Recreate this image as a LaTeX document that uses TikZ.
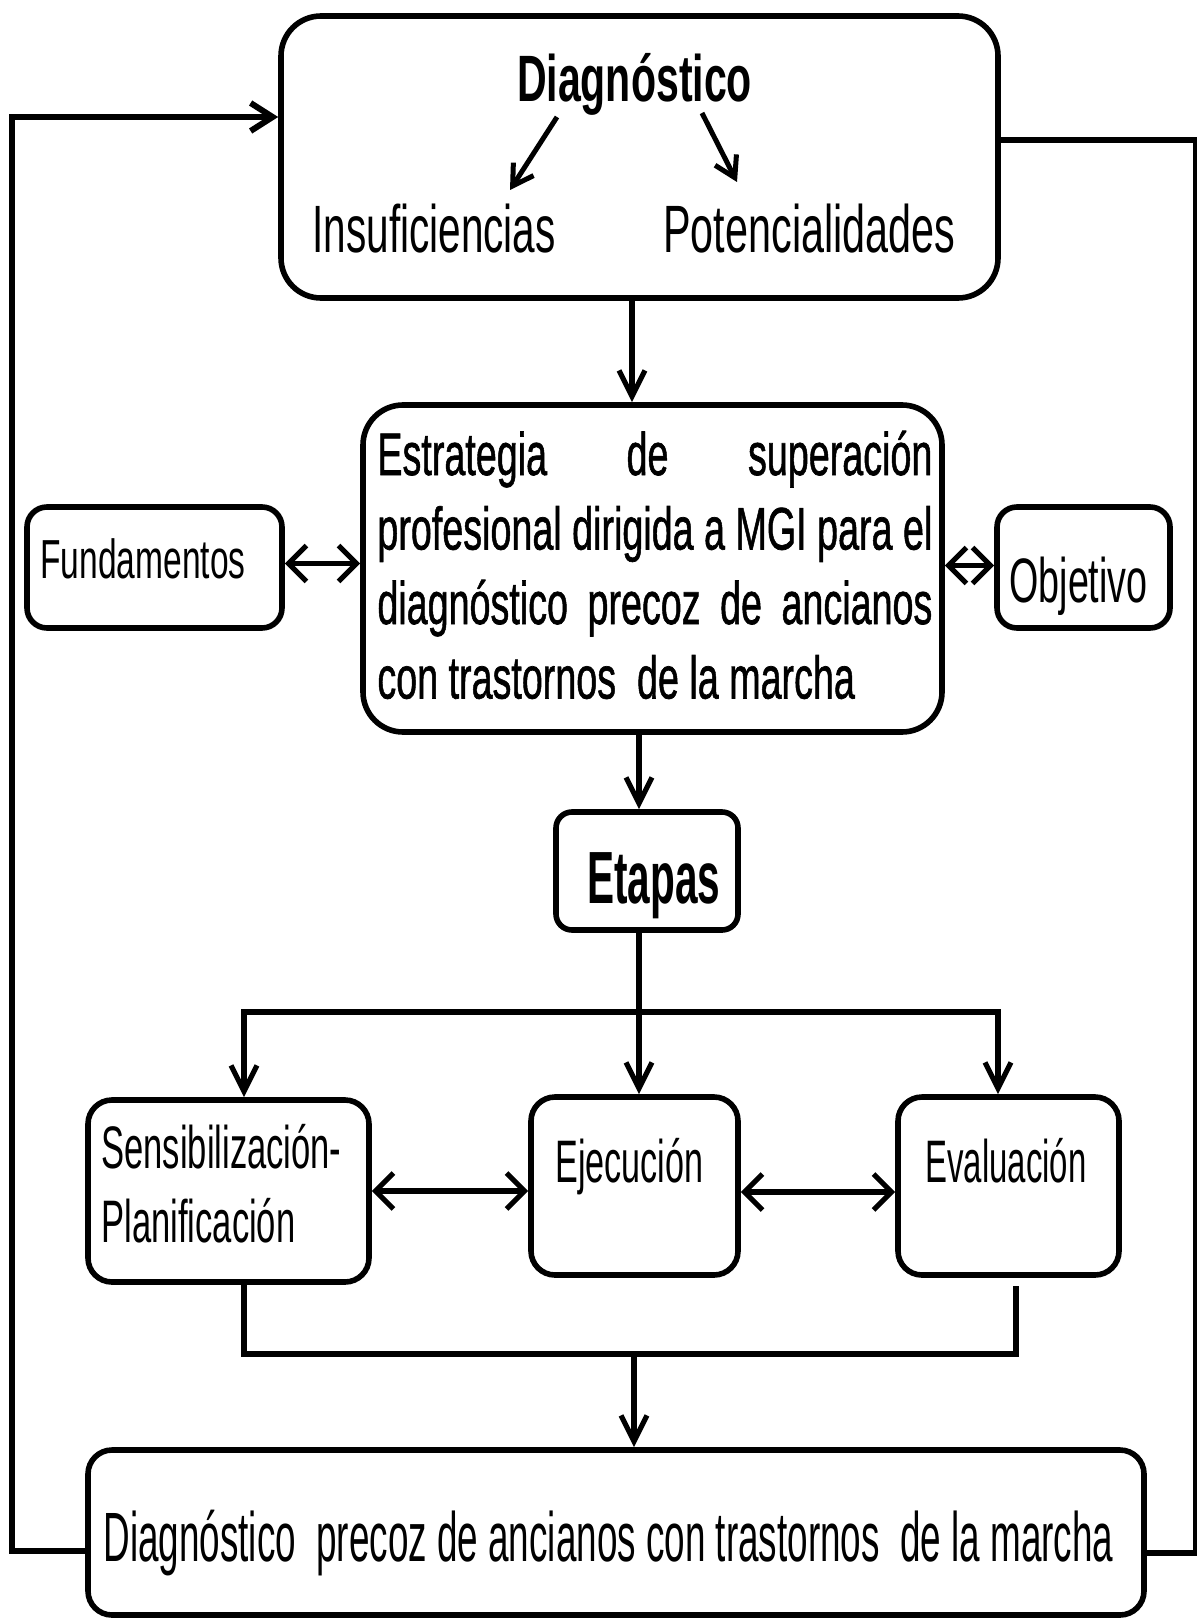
\documentclass[tikz,border=0pt]{standalone}
\usepackage{fontspec}
\setmainfont{Liberation Sans}
\newfontfamily\semib{Liberation Sans}[FakeBold=1.2]
\usepackage{graphicx}
\usetikzlibrary{arrows.meta,calc}
\newcommand{\SX}[3]{{\fontsize{#2}{#2}\selectfont\scalebox{#1}[1]{#3}}}
\begin{document}
\begin{tikzpicture}[x=0.5pt,y=-0.5pt,
  box/.style={draw,line width=2.8pt,rounded corners=#1,inner sep=0pt},
  box/.default=10pt,
  lbl/.style={inner sep=0pt,anchor=base west},
  conn/.style={line width=2.6pt},
  arr/.style={conn,-{Straight Barb[length=13pt,width=13pt]}},
  sarr/.style={line width=2.5pt,-{Straight Barb[length=10pt,width=12pt]}},
  darr/.style={conn,{Straight Barb[length=9pt,width=18pt]}-{Straight Barb[length=9pt,width=18pt]}},
  loopline/.style={line width=3pt}
]
\useasboundingbox (0,0) rectangle (1196,1621);

% boxes
\node[box=20pt,minimum width=358.5pt,minimum height=141pt] (top) at (639.5,157) {};
\node[box=20pt,minimum width=289.5pt,minimum height=163.5pt] (mid) at (652.5,568.5) {};
\node[box=10pt,minimum width=127.5pt,minimum height=60.5pt] (fund) at (154.5,567.5) {};
\node[box=10pt,minimum width=86.5pt,minimum height=60.5pt] (obj) at (1083.5,567.5) {};
\node[box=8pt,minimum width=91pt,minimum height=59pt] (et) at (647,871) {};
\node[box=12pt,minimum width=140.5pt,minimum height=91pt] (sens) at (228.5,1191) {};
\node[box=12pt,minimum width=103.5pt,minimum height=89pt] (ejec) at (634.5,1186) {};
\node[box=12pt,minimum width=110.5pt,minimum height=89pt] (eval) at (1008.5,1186) {};
\node[box=12pt,minimum width=528pt,minimum height=82.5pt] (bot) at (616,1532.5) {};

% texts
\node[lbl,anchor=base] (ttl) at (634.5,102) {\bfseries\SX{0.626}{32.8}{Diagnóstico}};
\node[lbl] (ins) at (312,253) {\SX{0.605}{33.5}{Insuficiencias}};
\node[lbl] (pot) at (663,253) {\SX{0.617}{33.5}{Potencialidades}};
\node[lbl] (midt) at (377,475) {\semib\fontsize{30}{37.25}\selectfont\scalebox{0.628}[1]{\parbox[t]{441.9pt}{%
\makebox[\linewidth][s]{Estrategia de superación}\\
\makebox[\linewidth][s]{profesional dirigida a MGI para el}\\
\makebox[\linewidth][s]{diagnóstico precoz de ancianos}\\
con trastornos\ \ de la marcha}}};
\node[lbl] (fundt) at (40,578) {\SX{0.61}{27.5}{Fundamentos}};
\node[lbl] (objt) at (1009,602) {\SX{0.6}{31.4}{Objetivo}};
\node[lbl] (ett) at (587,903) {\bfseries\SX{0.548}{37}{Etapas}};
\node[lbl] (senst) at (101,1168) {\fontsize{30}{37}\selectfont\scalebox{0.576}[1]{\parbox[t]{210pt}{Sensibilización-\\Planificación}}};
\node[lbl] (eject) at (555,1182) {\SX{0.569}{30}{Ejecución}};
\node[lbl] (evalt) at (925,1182) {\SX{0.549}{30}{Evaluación}};
\node[lbl] (bott) at (103,1561) {\SX{0.528}{34.9}{Diagnóstico\ \ precoz de ancianos con trastornos\ \ de la marcha}};

% helper coordinates
\coordinate (d1s) at (557,117);
\coordinate (d1e) at (510,190);
\coordinate (d2s) at (702,113);
\coordinate (d2e) at (737,182);
\coordinate (c1) at (632,0);
\coordinate (c2) at (639,0);
\coordinate (c3) at (244,0);
\coordinate (c4) at (998,0);
\coordinate (c5) at (1016,0);
\coordinate (c6) at (634,0);
\coordinate (h1) at (0,1012);
\coordinate (h2) at (0,1354);

% connectors
\draw[sarr] (d1s) -- (d1e);
\draw[sarr] (d2s) -- (d2e);
\draw[loopline,-{Straight Barb[length=11pt,width=14pt]}] ($(bot.west)+(0,18)$) -- ++(-73,0) |- ($(top.west)+(0,-40)$);
\draw[loopline] ($(top.east)+(0,-17)$) -- ++(195,0) |- ($(bot.east)+(0,20)$);
\draw[arr] (top.south -| c1) -- (mid.north -| c1);
\draw[arr] (mid.south -| c2) -- (et.north -| c2);
\draw[arr] (et.south -| c2) -- (ejec.north -| c2);
\draw[conn,{Straight Barb[length=13pt,width=13pt]}-{Straight Barb[length=13pt,width=13pt]}] (sens.north -| c3) -- (h1 -| c3) -- (h1 -| c4) -- (eval.north -| c4);
\draw[conn] (sens.south -| c3) -- (h2 -| c3) -- (h2 -| c5) -- ($(eval.south -| c5)+(0,8)$);
\draw[arr] (h2 -| c6) -- (bot.north -| c6);
\draw[darr] ($(fund.east)+(0,-4)$) -- ($(fund.east -| mid.west)+(0,-4)$);
\draw[darr] ($(obj.west -| mid.east)+(0,-2)$) -- ($(obj.west)+(0,-2)$);
\draw[darr] (sens.east) -- (sens.east -| ejec.west);
\draw[darr] ($(ejec.east)+(0,6)$) -- ($(eval.west)+(0,6)$);
\end{tikzpicture}
\end{document}
